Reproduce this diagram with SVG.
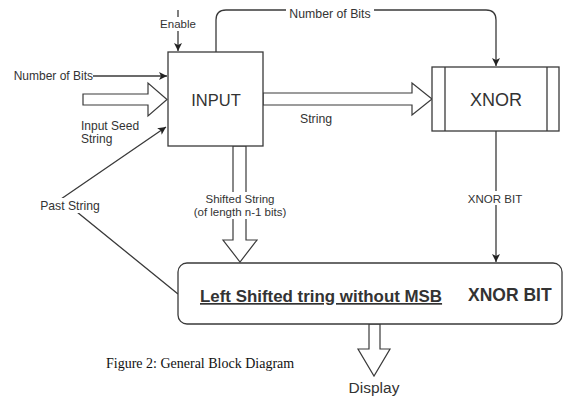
<svg xmlns="http://www.w3.org/2000/svg" width="564" height="398" viewBox="0 0 564 398">
<defs>
<style>
.ln{fill:none;stroke:#3a3a3a;stroke-width:1.3}
.box{fill:#fff;stroke:#3a3a3a;stroke-width:1.3}
.hol{fill:#fff;stroke:#3a3a3a;stroke-width:1.2;stroke-linejoin:miter}
.t{font-family:"Liberation Sans",Arial,sans-serif;fill:#333}
.s{font-size:11.5px}
.bg{fill:#fff}
</style>
<marker id="ah" markerWidth="9" markerHeight="9" refX="8" refY="4.5" orient="auto" markerUnits="userSpaceOnUse">
<path d="M0,0.5 L8,4.5 L0,8.5 L2,4.5 z" fill="#222"/>
</marker>
</defs>
<rect width="564" height="398" fill="#fff"/>
<g id="connectors">
<!-- Enable -->
<line class="ln" x1="178" y1="10" x2="178" y2="51" marker-end="url(#ah)"/>
<rect class="bg" x="158" y="17" width="40" height="14"/>
<text class="t s" x="178" y="28" text-anchor="middle">Enable</text>
<!-- Number of Bits left -->
<line class="ln" x1="93" y1="76" x2="167" y2="76" marker-end="url(#ah)"/>
<text class="t" x="93" y="80" font-size="12" text-anchor="end">Number of Bits</text>
<!-- Input seed hollow arrow -->
<polygon class="hol" points="83,94 148,94 148,83 167,99.5 148,116 148,105 83,105"/>
<text class="t" x="81" y="130" font-size="12">Input Seed</text>
<text class="t" x="81" y="143" font-size="12">String</text>
<!-- Past String -->
<polyline class="ln" points="178,294 61,199 166,127" marker-end="url(#ah)"/>
<rect class="bg" x="38" y="198" width="64" height="15"/>
<text class="t" x="70" y="210" font-size="12.2" text-anchor="middle">Past String</text>
<!-- Top Number of Bits -->
<path class="ln" d="M216,52 V20 Q216,10 226,10 H486 Q496,10 496,20 V66" marker-end="url(#ah)"/>
<rect class="bg" x="286" y="6" width="88" height="14"/>
<text class="t" x="330" y="18" font-size="12.3" text-anchor="middle">Number of Bits</text>
<!-- String hollow arrow -->
<polygon class="hol" points="263,93 412,93 412,83 432,99 412,115 412,105 263,105"/>
<text class="t" x="300" y="123" font-size="12.3">String</text>
<!-- Shifted string hollow arrow -->
<polygon class="hol" points="233,146 233,240 223,240 240,262 257,240 246,240 246,146"/>
<rect class="bg" x="190" y="192" width="100" height="27"/>
<text class="t s" x="240" y="203" text-anchor="middle">Shifted String</text>
<text class="t s" x="240" y="216" text-anchor="middle">(of length n-1 bits)</text>
<!-- XNOR BIT line -->
<line class="ln" x1="496" y1="131" x2="496" y2="262" marker-end="url(#ah)"/>
<rect class="bg" x="465" y="191" width="60" height="14"/>
<text class="t s" x="495" y="203" text-anchor="middle">XNOR BIT</text>
<!-- Display hollow arrow -->
<polygon class="hol" points="369,324 369,349 358,349 374,376 390,349 380,349 380,324"/>
<text class="t" x="374" y="393" font-size="15.5" text-anchor="middle">Display</text>
</g>
<g id="input">
<rect class="box" x="168" y="52" width="95" height="94"/>
<text class="t" x="216" y="106" font-size="16.5" text-anchor="middle">INPUT</text>
</g>
<g id="xnor">
<rect class="box" x="432" y="67" width="127" height="64"/>
<line class="ln" x1="445" y1="67" x2="445" y2="131"/>
<line class="ln" x1="547" y1="67" x2="547" y2="131"/>
<text class="t" x="496" y="106" font-size="18" text-anchor="middle">XNOR</text>
</g>
<g id="output">
<rect class="box" x="178" y="263" width="384" height="61" rx="9"/>
<text class="t" x="200" y="302" font-size="16.9" font-weight="bold" text-decoration="underline">Left Shifted tring without MSB</text>
<text class="t" x="468" y="301" font-size="17.5" font-weight="bold" fill="#111">XNOR BIT</text>
</g>
<g id="caption">
<text x="106" y="368" font-family="'Liberation Serif','Times New Roman',serif" font-size="14" fill="#111">Figure 2: General Block Diagram</text>
</g>
</svg>
